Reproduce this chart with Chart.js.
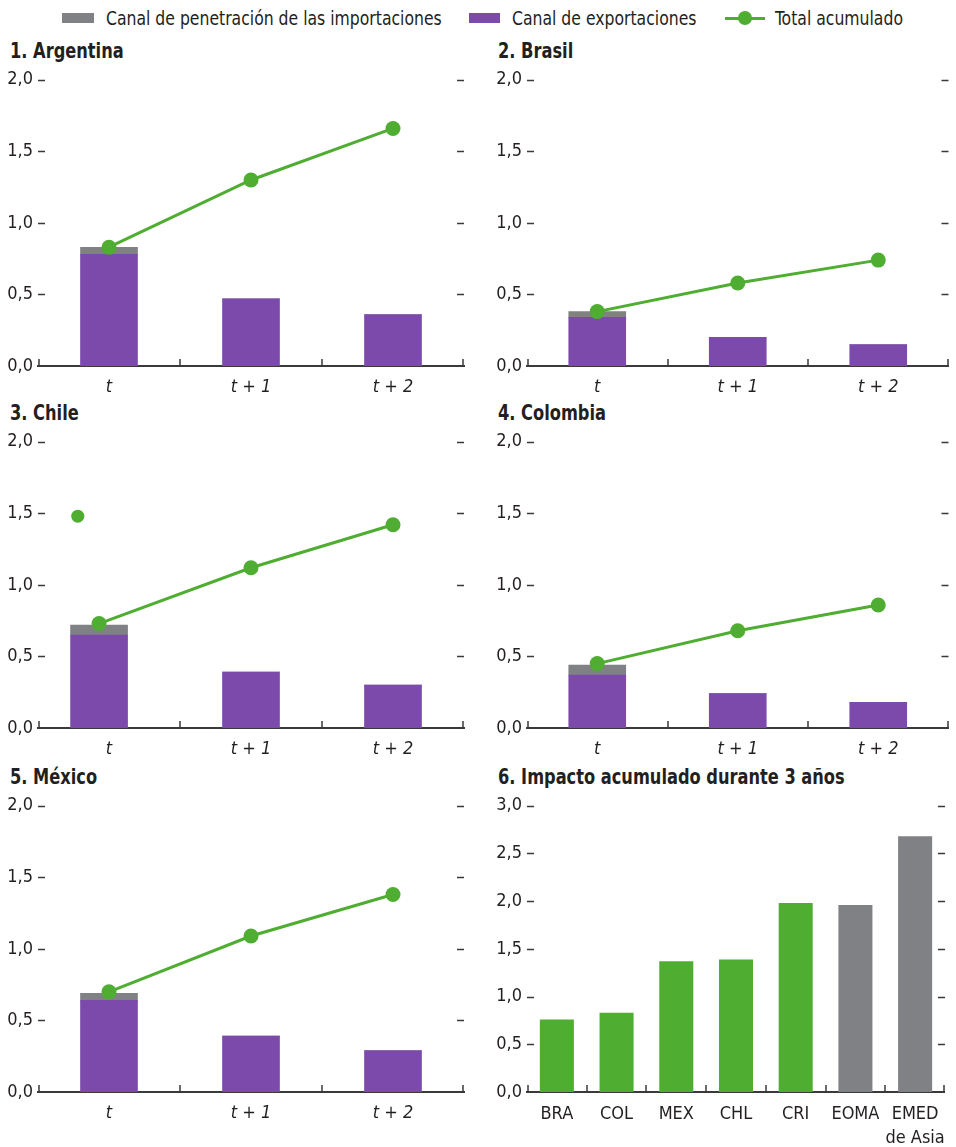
<!DOCTYPE html>
<html>
<head>
<meta charset="utf-8">
<script src="https://cdn.jsdelivr.net/npm/chart.js@4"></script>
<style>
  body { margin: 0; background: #fff; }
  #page { position: relative; width: 956px; height: 1147px; font-family: "DejaVu Sans Condensed", "Liberation Sans Narrow", sans-serif; color: #231f20; }
  .box { position: absolute; }
  .title { position: absolute; font-weight: bold; font-size: 22px; line-height: 22px; white-space: nowrap; transform: scaleX(0.82); transform-origin: 0 0; }
  .leg { position: absolute; font-size: 20px; line-height: 20px; top: 8px; white-space: nowrap; transform: scaleX(0.87); transform-origin: 0 0; }
  .sw { position: absolute; top: 13px; height: 10px; }
</style>
</head>
<body>
<div id="page">
  <div class="sw" style="left:62px;width:32px;background:#808184"></div>
  <div class="leg" style="left:106px">Canal de penetración de las importaciones</div>
  <div class="sw" style="left:469px;width:31px;background:#7b4aab"></div>
  <div class="leg" style="left:512px">Canal de exportaciones</div>
  <div class="sw" style="left:725px;width:40px;top:17px;height:3px;background:#4fad32"></div>
  <div class="sw" style="left:738px;width:14px;top:11px;height:14px;border-radius:7px;background:#4fad32"></div>
  <div class="leg" style="left:775px">Total acumulado</div>

  <div class="title" style="left:10px;top:40px">1. Argentina</div>
  <div class="title" style="left:498px;top:40px">2. Brasil</div>
  <div class="title" style="left:10px;top:402px">3. Chile</div>
  <div class="title" style="left:498px;top:402px">4. Colombia</div>
  <div class="title" style="left:10px;top:766px">5. México</div>
  <div class="title" style="left:498px;top:766px">6. Impacto acumulado durante 3 años</div>

  <div class="box" style="left:0;top:64px"><canvas id="c1" width="478" height="332"></canvas></div>
  <div class="box" style="left:489px;top:64px"><canvas id="c2" width="467" height="332"></canvas></div>
  <div class="box" style="left:0;top:426px"><canvas id="c3" width="478" height="332"></canvas></div>
  <div class="box" style="left:489px;top:426px"><canvas id="c4" width="467" height="332"></canvas></div>
  <div class="box" style="left:0;top:790px"><canvas id="c5" width="478" height="332"></canvas></div>
  <div class="box" style="left:489px;top:790px"><canvas id="c6" width="467" height="357"></canvas></div>
</div>
<script>
// data
const periodLabels = ['t', 't + 1', 't + 2'];
const periodX = [0, 1, 2];

const argExport = [0.78, 0.47, 0.36];
const argImport = [0.05, 0, 0];
const argTotal = [0.83, 1.30, 1.66];

const braExport = [0.34, 0.20, 0.15];
const braImport = [0.04, 0, 0];
const braTotal = [0.38, 0.58, 0.74];

const chlExport = [0.65, 0.39, 0.30];
const chlImport = [0.07, 0, 0];
const chlTotal = [0.73, 1.12, 1.42];
const chlPeriodX = [-0.07, 1, 2];     // first period sits a bit left in the original
const chlStrayPoint = [-0.22, 1.48];  // lone dot in the original

const colExport = [0.37, 0.24, 0.18];
const colImport = [0.07, 0, 0];
const colTotal = [0.45, 0.68, 0.86];

const mexExport = [0.64, 0.39, 0.29];
const mexImport = [0.05, 0, 0];
const mexTotal = [0.70, 1.09, 1.38];

const impactLabels = ['BRA', 'COL', 'MEX', 'CHL', 'CRI', 'EOMA', ['EMED', 'de Asia']];
const impactValues = [0.76, 0.83, 1.37, 1.39, 1.98, 1.96, 2.68];
const latamCount = 5;

const PURPLE = '#7b4aab', GRAY = '#808184', GREEN = '#4fad32', INK = '#231f20', AXIS = '#3a3a3a';

Chart.defaults.font.family = '"DejaVu Sans Condensed", "Liberation Sans Narrow", sans-serif';
Chart.defaults.font.size = 18;
Chart.defaults.color = INK;
Chart.defaults.animation = false;

// short inward tick marks, left/right of the plot and upward on the x axis
const tickMarks = {
  id: 'tickMarks',
  afterDatasetsDraw(chart) {
    const {ctx, chartArea: a, scales: {x, y}} = chart;
    ctx.save();
    ctx.strokeStyle = AXIS;
    ctx.lineWidth = 1.5;
    ctx.beginPath();
    y.ticks.forEach((t, i) => {
      if (t.value === 0) return;
      const py = Math.round(y.getPixelForTick(i)) + 0.5;
      ctx.moveTo(a.left, py); ctx.lineTo(a.left + 7, py);
      ctx.moveTo(a.right - 7, py); ctx.lineTo(a.right, py);
    });
    const lo = x.type === 'category' ? -0.5 : x.min;
    const hi = x.type === 'category' ? x.max + 0.5 : x.max;
    for (let v = lo; v <= hi + 1e-9; v += 1) {
      const px = Math.round(x.getPixelForValue(v)) + (v === lo ? 1 : v >= hi - 1e-9 ? -1 : 0);
      ctx.moveTo(px, a.bottom); ctx.lineTo(px, a.bottom - 7);
    }
    ctx.stroke();
    ctx.restore();
  }
};

function yScale(max) {
  return {
    min: 0, max: max, stacked: true,
    grid: { display: false, drawTicks: false },
    border: { display: false },
    ticks: { stepSize: 0.5, padding: 5, callback: v => v.toFixed(1).replace('.', ',') },
    afterFit: s => { s.width = 38; }
  };
}

function periodPanel(id, exp, imp, tot, xs, stray, padRight) {
  const pts = arr => xs.map((x, i) => ({x: x, y: arr[i]}));
  const datasets = [
    { type: 'line', label: 'Total acumulado', data: pts(tot), borderColor: GREEN, backgroundColor: GREEN,
      borderWidth: 3, pointRadius: 7.5, pointHoverRadius: 7.5, pointBorderWidth: 0, order: 0 },
    { type: 'bar', label: 'Canal de exportaciones', data: pts(exp), backgroundColor: PURPLE, barThickness: 57, order: 1 },
    { type: 'bar', label: 'Canal de penetración de las importaciones', data: pts(imp), backgroundColor: GRAY, barThickness: 57, order: 2 }
  ];
  if (stray) {
    datasets.push({ type: 'line', label: 'Total acumulado', stack: 'dot', showLine: false, data: [{x: stray[0], y: stray[1]}],
      backgroundColor: GREEN, borderColor: GREEN, pointRadius: 6.5, pointBorderWidth: 0, order: 0 });
  }
  return new Chart(document.getElementById(id), {
    data: { datasets: datasets },
    options: {
      responsive: false,
      layout: { padding: { top: 14, right: padRight, left: 0, bottom: 0 } },
      plugins: { legend: { display: false }, tooltip: { enabled: false } },
      scales: {
        x: {
          type: 'linear', min: -0.5, max: 2.5, stacked: true, offset: false,
          grid: { display: false, drawTicks: false, offset: false },
          border: { color: AXIS, width: 2 },
          afterBuildTicks: s => { s.ticks = periodX.map(v => ({value: v})); },
          ticks: { autoSkip: false, maxRotation: 0, padding: 11, font: { style: 'italic' },
                   callback: v => periodLabels[v] },
          afterFit: s => { s.height = 30; }
        },
        y: yScale(2)
      }
    },
    plugins: [tickMarks]
  });
}

periodPanel('c1', argExport, argImport, argTotal, periodX, null, 14);
periodPanel('c2', braExport, braImport, braTotal, periodX, null, 3);
periodPanel('c3', chlExport, chlImport, chlTotal, chlPeriodX, chlStrayPoint, 14);
periodPanel('c4', colExport, colImport, colTotal, periodX, null, 3);
periodPanel('c5', mexExport, mexImport, mexTotal, periodX, null, 14);

new Chart(document.getElementById('c6'), {
  type: 'bar',
  data: {
    labels: impactLabels,
    datasets: [{
      label: 'Impacto acumulado',
      data: impactValues,
      backgroundColor: impactValues.map((v, i) => i < latamCount ? GREEN : GRAY),
      barPercentage: 0.57, categoryPercentage: 1
    }]
  },
  options: {
    responsive: false,
    layout: { padding: { top: 14, right: 3, left: 0, bottom: 0 } },
    plugins: { legend: { display: false }, tooltip: { enabled: false } },
    scales: {
      x: {
        grid: { display: false, drawTicks: false },
        border: { color: AXIS, width: 2 },
        ticks: { autoSkip: false, maxRotation: 0, padding: 11, font: { lineHeight: 1.3 } },
        afterFit: s => { s.height = 55; }
      },
      y: yScale(3)
    }
  },
  plugins: [tickMarks]
});
</script>
</body>
</html>
